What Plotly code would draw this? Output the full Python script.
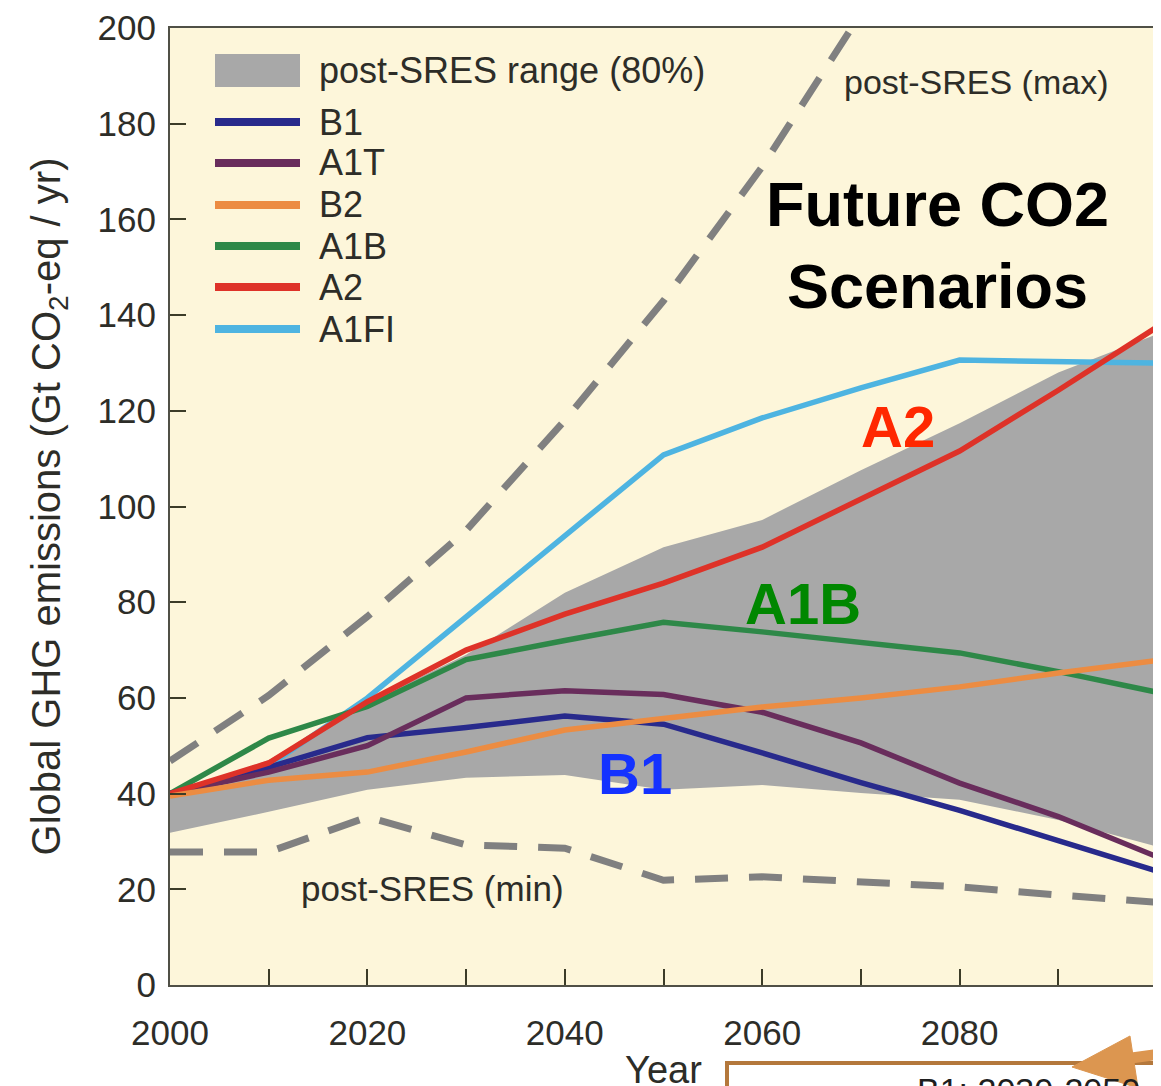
import plotly.graph_objects as go

# ---------------- data ----------------
years = [2000, 2010, 2020, 2030, 2040, 2050, 2060, 2070, 2080, 2090, 2100]

range_low = [31.8, 36.2, 40.8, 43.3, 43.9, 40.8, 41.8, 40.1, 38.7, 34.5, 28.9]
range_high = [40.0, 47.0, 59.0, 69.0, 82.0, 91.5, 97.2, 107.6, 117.4, 128.0, 136.0]

post_max = [46.8, 60.5, 77.0, 95.0, 118.0, 143.0, 171.0, 203.0]
post_min = [27.8, 27.8, 35.1, 29.3, 28.6, 21.9, 22.6, 21.5, 20.5, 18.8, 17.3]

b1 = [40.0, 45.5, 51.7, 53.8, 56.2, 54.5, 48.5, 42.3, 36.5, 30.2, 23.8]
a1t = [40.0, 44.5, 50.0, 60.0, 61.5, 60.7, 57.0, 50.6, 42.2, 35.2, 26.8]
b2 = [39.5, 42.8, 44.5, 48.7, 53.3, 55.8, 58.1, 60.0, 62.3, 65.2, 67.8]
a1b = [40.0, 51.6, 58.2, 68.0, 72.0, 75.8, 73.8, 71.7, 69.4, 65.5, 61.2]
a2 = [40.0, 46.4, 59.2, 70.0, 77.5, 84.0, 91.5, 101.4, 111.6, 124.3, 137.5]
a1fi = [40.0, 45.8, 60.0, 77.0, 94.0, 110.8, 118.5, 124.8, 130.6, 130.2, 130.0]

scenario_names = ["B1", "A1T", "B2", "A1B", "A2", "A1FI"]
scenario_values = {"B1": b1, "A1T": a1t, "B2": b2, "A1B": a1b, "A2": a2, "A1FI": a1fi}
scenario_colors = {
    "B1": "rgb(40,42,140)",
    "A1T": "rgb(105,45,92)",
    "B2": "rgb(236,140,66)",
    "A1B": "rgb(46,136,72)",
    "A2": "rgb(222,50,40)",
    "A1FI": "rgb(78,180,225)",
}
draw_order = ["A1FI", "A1B", "B1", "A1T", "A2", "B2"]

band_label = "post-SRES range (80%)"
x_ticks = [2000, 2020, 2040, 2060, 2080, 2100]

# ---------------- layout geometry ----------------
W, H = 1161, 1086
OFF = 8                      # page body margin in the browser
L, R, T, B = 162, 12, 20, 109
PW = W - L - R
PH = H - T - B


def px(x):
    """page x pixel -> paper fraction"""
    return (x - OFF - L) / PW


def py(y):
    """page y pixel -> paper fraction"""
    return (H - B - (y - OFF)) / PH


FONT = "Liberation Sans, Arial, sans-serif"
TXT = "rgb(45,45,40)"
GRAY = "rgb(168,168,168)"
DASH = "rgb(128,128,128)"

fig = go.Figure()

# band
fig.add_trace(go.Scatter(x=years, y=range_low, mode="lines", line=dict(width=0),
                         hoverinfo="skip", showlegend=False))
fig.add_trace(go.Scatter(x=years, y=range_high, mode="lines", line=dict(width=0),
                         fill="tonexty", fillcolor=GRAY, name=band_label, showlegend=False))

# dashed extremes
fig.add_trace(go.Scatter(x=years[:len(post_max)], y=post_max, mode="lines",
                         line=dict(color=DASH, width=7, dash="33px,21px"),
                         name="post-SRES (max)", showlegend=False))
fig.add_trace(go.Scatter(x=years, y=post_min, mode="lines",
                         line=dict(color=DASH, width=7, dash="33px,21px"),
                         name="post-SRES (min)", showlegend=False))

for name in draw_order:
    fig.add_trace(go.Scatter(x=years, y=scenario_values[name], mode="lines",
                             line=dict(color=scenario_colors[name], width=5.5),
                             name=name, showlegend=False))

shapes = []
annotations = []

# manual legend
sw_x0, sw_x1 = px(215), px(300)
shapes.append(dict(type="rect", xref="paper", yref="paper", x0=sw_x0, x1=sw_x1,
                   y0=py(87), y1=py(54), fillcolor=GRAY, line=dict(width=0)))
annotations.append(dict(text=band_label, xref="paper", yref="paper", x=px(317), y=py(71),
                        xanchor="left", yanchor="middle", showarrow=False,
                        font=dict(family=FONT, size=36, color=TXT)))
leg_y = [122, 163, 205, 246, 287, 329]
for name, yy in zip(scenario_names, leg_y):
    shapes.append(dict(type="line", xref="paper", yref="paper", x0=sw_x0, x1=sw_x1,
                       y0=py(yy), y1=py(yy), line=dict(color=scenario_colors[name], width=8)))
    annotations.append(dict(text=name, xref="paper", yref="paper", x=px(317), y=py(yy),
                            xanchor="left", yanchor="middle", showarrow=False,
                            font=dict(family=FONT, size=36, color=TXT)))

# labels in the plot
annotations.append(dict(text="post-SRES (max)", xref="paper", yref="paper", x=px(842), y=py(82),
                        xanchor="left", yanchor="middle", showarrow=False,
                        font=dict(family=FONT, size=34, color=TXT)))
annotations.append(dict(text="post-SRES (min)", xref="paper", yref="paper", x=px(299), y=py(888),
                        xanchor="left", yanchor="middle", showarrow=False,
                        font=dict(family=FONT, size=35, color=TXT)))
annotations.append(dict(text="<b>Future CO2</b><br><b>Scenarios</b>", xref="paper", yref="paper",
                        x=px(937), y=py(245), xanchor="center", yanchor="middle", showarrow=False,
                        align="center", font=dict(family=FONT, size=63, color="black")))
annotations.append(dict(text="<b>A2</b>", xref="paper", yref="paper", x=px(898), y=py(427),
                        xanchor="center", yanchor="middle", showarrow=False,
                        font=dict(family=FONT, size=58, color="rgb(255,40,0)")))
annotations.append(dict(text="<b>A1B</b>", xref="paper", yref="paper", x=px(803), y=py(603),
                        xanchor="center", yanchor="middle", showarrow=False,
                        font=dict(family=FONT, size=58, color="rgb(0,135,0)")))
annotations.append(dict(text="<b>B1</b>", xref="paper", yref="paper", x=px(635), y=py(773),
                        xanchor="center", yanchor="middle", showarrow=False,
                        font=dict(family=FONT, size=58, color="rgb(20,50,255)")))

# cut-off callout box and arrow at the bottom
shapes.append(dict(type="rect", xref="paper", yref="paper", x0=px(727), x1=px(1250),
                   y0=py(1063), y1=py(1250), fillcolor="white",
                   line=dict(color="rgb(180,120,60)", width=4)))
annotations.append(dict(text="B1: 2030-2050", xref="paper", yref="paper", x=px(915), y=py(1069),
                        xanchor="left", yanchor="top", showarrow=False,
                        font=dict(family=FONT, size=34, color="rgb(30,30,30)")))
ARROW = "rgb(220,150,80)"
shapes.append(dict(type="line", xref="paper", yref="paper", x0=px(1110), y0=py(1061),
                   x1=px(1175), y1=py(1052), line=dict(color=ARROW, width=11)))
shapes.append(dict(type="path", xref="paper", yref="paper",
                   path="M {:.5f},{:.5f} L {:.5f},{:.5f} L {:.5f},{:.5f} Z".format(
                       px(1072), py(1067), px(1130), py(1036), px(1138), py(1088)),
                   fillcolor=ARROW, line=dict(color=ARROW, width=1)))

axis_common = dict(showline=True, linecolor="rgb(80,80,70)", linewidth=2, mirror=True,
                   ticks="inside", ticklen=16, tickwidth=2, tickcolor="rgb(60,60,40)",
                   showgrid=False, zeroline=False, automargin=False,
                   tickfont=dict(family=FONT, size=35, color=TXT))

fig.update_layout(
    width=W, height=H,
    margin=dict(l=L, r=R, t=T, b=B, pad=0, autoexpand=False),
    paper_bgcolor="white",
    plot_bgcolor="rgb(253,246,218)",
    showlegend=False,
    xaxis=dict(range=[2000, 2100], tickvals=x_ticks, ticklabelstandoff=16,
               minor=dict(dtick=10, tick0=2000, ticks="inside", ticklen=16, tickwidth=2,
                          tickcolor="rgb(60,60,40)"),
               title=dict(text="Year", standoff=5, font=dict(family=FONT, size=38, color=TXT)),
               **axis_common),
    yaxis=dict(range=[0, 200], dtick=20, tick0=0, ticklabelstandoff=5,
               title=dict(text="Global GHG emissions (Gt CO<sub>2</sub>-eq / yr)", standoff=25,
                          font=dict(family=FONT, size=40, color=TXT)),
               **axis_common),
    shapes=shapes,
    annotations=annotations,
)

fig.write_html("out.html")
